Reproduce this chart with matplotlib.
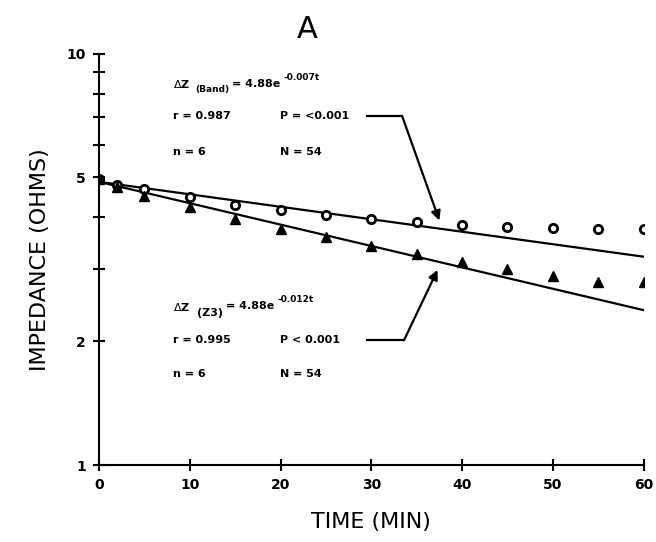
import matplotlib.pyplot as plt
from matplotlib.ticker import FixedLocator, NullFormatter

# measured impedance (ohms) vs time (min)
time_min = [0, 2, 5, 10, 15, 20, 25, 30, 35, 40, 45, 50, 55, 60]
band_z = [4.95, 4.79, 4.70, 4.48, 4.28, 4.17, 4.05, 3.96, 3.89, 3.84, 3.79, 3.76, 3.75, 3.75]
z3_z = [4.95, 4.75, 4.52, 4.23, 3.97, 3.75, 3.58, 3.40, 3.25, 3.12, 2.99, 2.88, 2.79, 2.79]

# fitted exponential lines (straight on log axis), end points
fit_t = [0, 60]
band_fit = [4.88, 3.21]
z3_fit = [4.88, 2.38]

x_ticks = [0, 10, 20, 30, 40, 50, 60]
x_labels = ['0', '10', '20', '30', '40', '50', '60']
y_major = [1, 2, 5, 10]
y_minor = [3, 4, 6, 7, 8, 9]

fig = plt.figure(figsize=(6.56, 5.42), dpi=100)
ax = fig.add_axes([0.151, 0.142, 0.830, 0.759])

ax.set_yscale('log')
ax.set_xlim(0, 60)
ax.set_ylim(1, 10)

# fit lines
ax.plot(fit_t, band_fit, color='black', lw=1.6, zorder=2)
ax.plot(fit_t, z3_fit, color='black', lw=1.6, zorder=2)

# data points
ax.plot(time_min, band_z, 'o', ms=6, mfc='white', mec='black', mew=2.0, zorder=3)
ax.plot(time_min, z3_z, '^', ms=6.5, color='black', zorder=4)

# annotations
tk = dict(fontsize=8, fontweight='bold', va='center', ha='left')
sub = dict(fontsize=6.5, fontweight='bold', va='center', ha='left')
ax.text(8.2, 8.44, r'$\Delta$Z', **tk)
ax.text(10.6, 8.20, '(Band)', **sub)
ax.text(14.6, 8.44, '= 4.88e', **tk)
ax.text(20.3, 8.75, '-0.007t', **sub)
ax.text(8.2, 7.05, 'r = 0.987', **tk)
ax.text(19.9, 7.05, 'P = <0.001', **tk)
ax.text(8.2, 5.76, 'n = 6', **tk)
ax.text(19.9, 5.76, 'N = 54', **tk)

ax.text(8.2, 2.42, r'$\Delta$Z', **tk)
ax.text(10.8, 2.34, '(Z3)', **tk)
ax.text(14.0, 2.44, '= 4.88e', **tk)
ax.text(19.7, 2.52, '-0.012t', **sub)
ax.text(8.2, 2.01, 'r = 0.995', **tk)
ax.text(19.9, 2.01, 'P < 0.001', **tk)
ax.text(8.2, 1.66, 'n = 6', **tk)
ax.text(19.9, 1.66, 'N = 54', **tk)

# leader arrows
ax.plot([29.5, 33.4], [7.05, 7.05], color='black', lw=1.6)
ax.annotate('', xy=(37.5, 3.93), xytext=(33.4, 7.05),
            arrowprops=dict(arrowstyle='-|>', color='black', lw=1.6, mutation_scale=14,
                            shrinkA=0, shrinkB=0))
ax.plot([29.5, 33.6], [2.01, 2.01], color='black', lw=1.6)
ax.annotate('', xy=(37.3, 2.98), xytext=(33.6, 2.01),
            arrowprops=dict(arrowstyle='-|>', color='black', lw=1.6, mutation_scale=14,
                            shrinkA=0, shrinkB=0))

# axes styling
for side in ['top', 'right']:
    ax.spines[side].set_visible(False)
for side in ['left', 'bottom']:
    ax.spines[side].set_linewidth(1.5)

ax.set_xticks(x_ticks)
ax.set_xticklabels(x_labels, fontsize=10, fontweight='bold')
ax.yaxis.set_major_locator(FixedLocator(y_major))
ax.set_yticklabels([str(v) for v in y_major], fontsize=10, fontweight='bold')
ax.yaxis.set_minor_locator(FixedLocator(y_minor))
ax.yaxis.set_minor_formatter(NullFormatter())
ax.tick_params(axis='both', which='both', direction='inout', length=9, width=1.5, pad=5)

ax.set_xlabel('TIME (MIN)', fontsize=16, labelpad=14)
ax.set_ylabel('IMPEDANCE (OHMS)', fontsize=16, labelpad=12)
fig.text(0.468, 0.945, 'A', fontsize=22, ha='center', va='center')

fig.savefig('out.png', dpi=100)
